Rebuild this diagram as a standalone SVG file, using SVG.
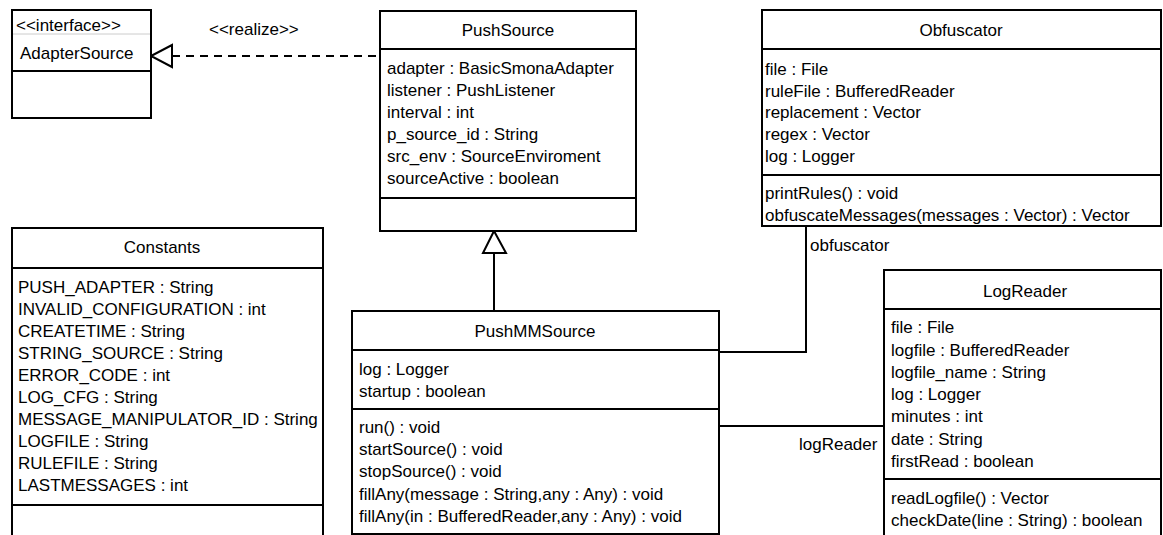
<svg xmlns="http://www.w3.org/2000/svg" width="1163" height="535" viewBox="0 0 1163 535">
<style>
.box{fill:#fff;stroke:#000;stroke-width:2}
.sep{stroke:#000;stroke-width:2}
.t{font-family:"Liberation Sans",Arial,sans-serif;font-size:17px;fill:#000}
.c{text-anchor:middle}
.conn{fill:none;stroke:#000;stroke-width:2}
</style>
<rect width="1163" height="535" fill="#fff"/>
<g id="connectors">
<line class="conn" x1="172" y1="56" x2="380" y2="56" stroke-dasharray="8,6"/>
<polygon points="151,56 172,45 172,67" fill="#fff" stroke="#000" stroke-width="2"/>
<text class="t" x="209" y="35">&lt;&lt;realize&gt;&gt;</text>
<line class="conn" x1="494" y1="253" x2="494" y2="311"/>
<polygon points="494,231 483,253 506,253" fill="#fff" stroke="#000" stroke-width="2"/>
<polyline class="conn" points="806,226 806,352 720,352"/>
<text class="t" x="810" y="251">obfuscator</text>
<line class="conn" x1="720" y1="426" x2="884" y2="426"/>
<text class="t" x="799" y="450">logReader</text>
</g>
<g id="AdapterSource">
<rect class="box" x="12" y="10" width="139" height="108"/>
<line x1="13" y1="34" x2="150" y2="34" stroke="#ccc" stroke-width="1"/>
<line class="sep" x1="12" y1="71" x2="151" y2="71"/>
<text class="t" x="16" y="31">&lt;&lt;interface&gt;&gt;</text>
<text class="t" x="20" y="59">AdapterSource</text>
</g>
<g id="PushSource">
<rect class="box" x="380" y="11" width="256" height="220"/>
<line class="sep" x1="380" y1="49" x2="636" y2="49"/>
<line class="sep" x1="380" y1="198" x2="636" y2="198"/>
<text class="t c" x="508" y="36">PushSource</text>
<text class="t" x="387" y="74">adapter : BasicSmonaAdapter</text>
<text class="t" x="387" y="96">listener : PushListener</text>
<text class="t" x="387" y="118">interval : int</text>
<text class="t" x="387" y="140">p_source_id : String</text>
<text class="t" x="387" y="162">src_env : SourceEnviroment</text>
<text class="t" x="387" y="184">sourceActive : boolean</text>
</g>
<g id="Obfuscator">
<rect class="box" x="762" y="10" width="399" height="216"/>
<line class="sep" x1="762" y1="49" x2="1161" y2="49"/>
<line class="sep" x1="762" y1="175" x2="1161" y2="175"/>
<text class="t c" x="961" y="36">Obfuscator</text>
<text class="t" x="765" y="75">file : File</text>
<text class="t" x="765" y="97">ruleFile : BufferedReader</text>
<text class="t" x="765" y="118">replacement : Vector</text>
<text class="t" x="765" y="140">regex : Vector</text>
<text class="t" x="765" y="162">log : Logger</text>
<text class="t" x="765" y="199">printRules() : void</text>
<text class="t" x="765" y="221">obfuscateMessages(messages : Vector) : Vector</text>
</g>
<g id="Constants">
<rect class="box" x="12" y="228" width="311" height="320"/>
<line class="sep" x1="12" y1="268" x2="323" y2="268"/>
<line class="sep" x1="12" y1="505" x2="323" y2="505"/>
<text class="t c" x="162" y="253">Constants</text>
<text class="t" x="18" y="293">PUSH_ADAPTER : String</text>
<text class="t" x="18" y="315">INVALID_CONFIGURATION : int</text>
<text class="t" x="18" y="337">CREATETIME : String</text>
<text class="t" x="18" y="359">STRING_SOURCE : String</text>
<text class="t" x="18" y="381">ERROR_CODE : int</text>
<text class="t" x="18" y="403">LOG_CFG : String</text>
<text class="t" x="18" y="425">MESSAGE_MANIPULATOR_ID : String</text>
<text class="t" x="18" y="447">LOGFILE : String</text>
<text class="t" x="18" y="469">RULEFILE : String</text>
<text class="t" x="18" y="491">LASTMESSAGES : int</text>
</g>
<g id="PushMMSource">
<rect class="box" x="352" y="311" width="367" height="223"/>
<line class="sep" x1="352" y1="350" x2="719" y2="350"/>
<line class="sep" x1="352" y1="409" x2="719" y2="409"/>
<text class="t c" x="535" y="337">PushMMSource</text>
<text class="t" x="359" y="375">log : Logger</text>
<text class="t" x="359" y="397">startup : boolean</text>
<text class="t" x="359" y="433">run() : void</text>
<text class="t" x="359" y="455">startSource() : void</text>
<text class="t" x="359" y="477">stopSource() : void</text>
<text class="t" x="359" y="500">fillAny(message : String,any : Any) : void</text>
<text class="t" x="359" y="522">fillAny(in : BufferedReader,any : Any) : void</text>
</g>
<g id="LogReader">
<rect class="box" x="884" y="270" width="277" height="280"/>
<line class="sep" x1="884" y1="309" x2="1161" y2="309"/>
<line class="sep" x1="884" y1="479" x2="1161" y2="479"/>
<text class="t c" x="1025" y="297">LogReader</text>
<text class="t" x="891" y="333">file : File</text>
<text class="t" x="891" y="356">logfile : BufferedReader</text>
<text class="t" x="891" y="378">logfile_name : String</text>
<text class="t" x="891" y="400">log : Logger</text>
<text class="t" x="891" y="422">minutes : int</text>
<text class="t" x="891" y="445">date : String</text>
<text class="t" x="891" y="467">firstRead : boolean</text>
<text class="t" x="891" y="504">readLogfile() : Vector</text>
<text class="t" x="891" y="526">checkDate(line : String) : boolean</text>
</g>
</svg>
